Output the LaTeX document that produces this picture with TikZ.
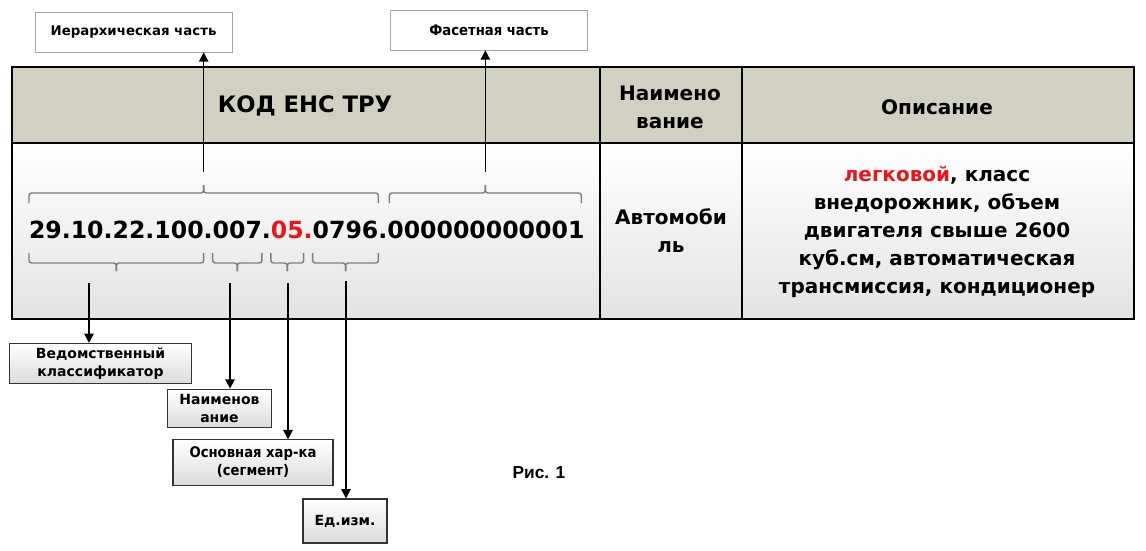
\documentclass[tikz,border=0pt]{standalone}
\usepackage{fontspec}
\setmainfont{DejaVu Sans}
\newfontfamily\condfont{DejaVu Sans Condensed}
\newfontfamily\arialfont{Liberation Sans}
\usetikzlibrary{calc,arrows.meta}
\definecolor{headfill}{HTML}{D2D0C0}
\definecolor{codered}{HTML}{E8161C}
\definecolor{bracegray}{HTML}{7F7F7F}
\definecolor{boxline}{HTML}{A6A6A6}

% brace over/under a code segment: left point, right point, direction (-1 up, 1 down)
\newcommand{\codebrace}[3]{%
  \draw[segbrace] (#1) -- ++(0,#3*10) -- ($(#1)!.5!(#2)+(0,#3*10)$) -- ++(0,#3*8);
  \draw[segbrace] (#2) -- ++(0,#3*10) -- ($(#1)!.5!(#2)+(0,#3*10)$) -- ++(0,#3*8);}

\begin{document}
\begin{tikzpicture}[x=0.75pt, y=-0.75pt,
  codepart/.style={inner sep=0pt, outer sep=0pt, font=\fontsize{17.7}{21}\selectfont\bfseries},
  toplabel/.style={draw=boxline, line width=0.5pt, fill=white, minimum width=148pt, minimum height=30pt, align=center},
  botlabel/.style={draw=black!80, line width=0.8pt, top color=white, bottom color=black!14, align=center, inner sep=1pt, font=\fontsize{10.5}{13.5}\selectfont\bfseries},
  segbrace/.style={draw=bracegray, line width=1.1pt, rounded corners=2pt},
  arr/.style={line width=1.2pt, -{Triangle[length=7pt,width=7pt]}}]

\useasboundingbox (0,0) rectangle (1146,550);

% Table
\fill[headfill] (12,67) rectangle (1134,143);
\shade[top color=white, bottom color=black!11] (12,143) rectangle (1134,319);
\draw[line width=2pt] (12,67) rectangle (1134,319);
\draw[line width=2pt] (12,143) -- (1134,143);
\draw[line width=2pt] (600,67) -- (600,319);
\draw[line width=2pt] (742,67) -- (742,319);

% Column headers
\node[font=\fontsize{17}{21}\selectfont\bfseries] (kod) at (305,106) {КОД ЕНС ТРУ};
\node[font=\fontsize{15}{21}\selectfont\bfseries, align=center] (naimhead) at (670,107) {Наимено\\вание};
\node[font=\fontsize{15}{21}\selectfont\bfseries] (opis) at (937,107) {Описание};

% Row
\node[font=\fontsize{15}{21}\selectfont\bfseries, align=center] (avto) at (671,231) {Автомоби\\ль};
\node[font=\fontsize{15}{21}\selectfont\bfseries, align=center] (desc) at (937,232)
  {{\color{codered}легковой}, класс\\внедорожник, объем\\двигателя свыше 2600\\куб.см, автоматическая\\трансмиссия, кондиционер};

% Code, split into segments
\node[codepart, anchor=west] (n1) at (29,229.5) {29.10.22.100};
\node[codepart, anchor=base west] (d1) at (n1.base east) {.};
\node[codepart, anchor=base west] (n2) at (d1.base east) {007};
\node[codepart, anchor=base west] (d2) at (n2.base east) {.};
\node[codepart, anchor=base west, text=codered] (n3) at (d2.base east) {05};
\node[codepart, anchor=base west, text=codered] (d3) at (n3.base east) {.};
\node[codepart, anchor=base west] (n4) at (d3.base east) {0796};
\node[codepart, anchor=base west] (d4) at (n4.base east) {.};
\node[codepart, anchor=base west] (n5) at (d4.base east) {000000000001};

% Braces
\coordinate (topy) at (0,203);
\coordinate (boty) at (0,253);
\coordinate (ta) at (n1.west |- topy);
\coordinate (tb) at (n4.east |- topy);
\coordinate (tc) at ($(n5.west |- topy)+(2,0)$);
\coordinate (td) at ($(n5.east |- topy)+(-3,0)$);
\coordinate (ba) at (n1.west |- boty);
\coordinate (bb) at (n1.east |- boty);
\coordinate (bc) at (n2.west |- boty);
\coordinate (bd) at (n2.east |- boty);
\coordinate (be) at (n3.west |- boty);
\coordinate (bf) at (n3.east |- boty);
\coordinate (bg) at (n4.west |- boty);
\coordinate (bh) at (n4.east |- boty);
\codebrace{ta}{tb}{-1}
\codebrace{tc}{td}{-1}
\codebrace{ba}{bb}{1}
\codebrace{bc}{bd}{1}
\codebrace{be}{bf}{1}
\codebrace{bg}{bh}{1}

% Upper labels
\node[toplabel, font=\fontsize{10}{12}\selectfont\bfseries] (hier) at (133.5,32) {Иерархическая часть};
\node[toplabel, font=\condfont\fontsize{11}{13}\selectfont\bfseries] (facet) at (489,30) {Фасетная часть};

% Lower labels
\node[botlabel, minimum width=136.5pt, minimum height=30pt] (ved) at (100.5,363.5) {Ведомственный\\классификатор};
\node[botlabel, minimum width=78pt, minimum height=29pt] (naim) at (219.5,408.5) {Наименов\\ание};
\node[botlabel, minimum width=120pt, minimum height=34pt, font=\condfont\fontsize{11}{13.5}\selectfont\bfseries] (osn) at (253,462.5) {Основная хар-ка\\(сегмент)};
\node[botlabel, minimum width=63pt, minimum height=33pt] (ed) at (345,521) {Ед.изм.};

% Arrows
\coordinate (hierstart) at ($(ta)!.5!(tb)+(0,-31)$);
\coordinate (facetstart) at ($(tc)!.5!(td)+(0,-31)$);
\draw[arr] (hierstart) -- (hierstart |- hier.south);
\draw[arr] (facetstart) -- (facetstart |- facet.south);
\coordinate (vedstart) at (89,283);
\coordinate (naimstart) at (230,283);
\coordinate (osnstart) at (288,283);
\coordinate (edstart) at (346,281);
\draw[arr] (vedstart) -- (vedstart |- ved.north);
\draw[arr] (naimstart) -- (naimstart |- naim.north);
\draw[arr] (osnstart) -- (osnstart |- osn.north);
\draw[arr] (edstart) -- (edstart |- ed.north);

% Caption
\node[font=\arialfont\fontsize{13}{15}\selectfont\bfseries] (fig) at (539,473) {Рис. 1};

\end{tikzpicture}
\end{document}
